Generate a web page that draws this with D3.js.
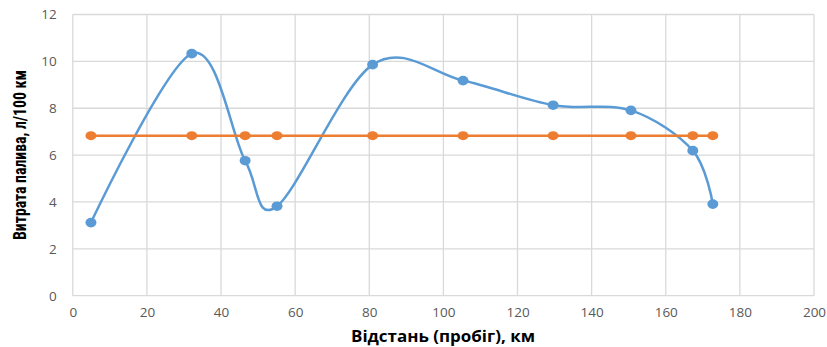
<!DOCTYPE html>
<html><head><meta charset="utf-8">
<script src="https://cdn.jsdelivr.net/npm/d3@7"></script>
<style>body{margin:0;background:#fff}svg{display:block}</style>
</head><body>
<script>
const distance = [4.9, 32.1, 46.5, 55.1, 80.9, 105.3, 129.6, 150.6, 167.3, 172.7];
const consumption = [3.12, 10.33, 5.76, 3.82, 9.86, 9.18, 8.13, 7.91, 6.19, 3.91];
const average = [6.83, 6.83, 6.83, 6.83, 6.83, 6.83, 6.83, 6.83, 6.83, 6.83];
const xTicks = [0, 20, 40, 60, 80, 100, 120, 140, 160, 180, 200];
const yTicks = [0, 2, 4, 6, 8, 10, 12];
const xTitle = "Відстань (пробіг), км";
const yTitle = "Витрата палива, л/100 км";

const W = 827, H = 347;
const svg = d3.select("body").append("svg").attr("width", W).attr("height", H);
const x = d3.scaleLinear().domain([0, 200]).range([72.8, 814]);
const y = d3.scaleLinear().domain([0, 12]).range([295.7, 14.5]);

const grid = svg.append("g");
grid.selectAll(".vx").data(xTicks).join("line")
  .attr("x1", d => x(d)).attr("x2", d => x(d)).attr("y1", y(0)).attr("y2", y(12))
  .attr("stroke", "#d9d9d9").attr("stroke-width", 1.3);
grid.selectAll(".hy").data(yTicks).join("line")
  .attr("x1", x(0)).attr("x2", x(200)).attr("y1", d => y(d)).attr("y2", d => y(d))
  .attr("stroke", "#d9d9d9").attr("stroke-width", 1.3);

const xAxis = svg.append("g").attr("transform", `translate(0,${y(0)})`)
  .call(d3.axisBottom(x).tickValues(xTicks).tickSize(0).tickPadding(12));
const yAxis = svg.append("g").attr("transform", `translate(${x(0)},0)`)
  .call(d3.axisLeft(y).tickValues(yTicks).tickSize(0).tickPadding(16));
[xAxis, yAxis].forEach(a => {
  a.select(".domain").remove();
  a.selectAll("text").attr("fill", "#595959").style("font-family", "'Open Sans', 'Liberation Sans', sans-serif").style("font-size", "13.5px");
});
xAxis.selectAll("text").attr("dy", "0.71em");

const pts = (vals) => distance.map((d, i) => [x(d), y(vals[i])]);

svg.append("path").attr("d", d3.line().curve(d3.curveCardinal.tension(0))(pts(consumption)))
  .attr("fill", "none").attr("stroke", "#5B9BD5").attr("stroke-width", 2.5);
svg.append("path").attr("d", d3.line()(pts(average)))
  .attr("fill", "none").attr("stroke", "#ED7D31").attr("stroke-width", 2.5);

svg.append("g").selectAll("ellipse").data(pts(consumption)).join("ellipse")
  .attr("cx", d => d[0]).attr("cy", d => d[1]).attr("rx", 5.5).attr("ry", 4.8).attr("fill", "#5B9BD5");
svg.append("g").selectAll("ellipse").data(pts(average)).join("ellipse")
  .attr("cx", d => d[0]).attr("cy", d => d[1]).attr("rx", 5.5).attr("ry", 4.5).attr("fill", "#ED7D31");

svg.append("text").attr("x", 443).attr("y", 342).attr("text-anchor", "middle")
  .attr("textLength", 184).attr("lengthAdjust", "spacingAndGlyphs")
  .style("font-family", "'Open Sans', 'Liberation Sans', sans-serif").style("font-size", "16px").style("font-weight", "bold")
  .attr("fill", "#000").text(xTitle);
svg.append("text").attr("transform", "translate(26,155) rotate(-90)").attr("text-anchor", "middle")
  .attr("textLength", 170).attr("lengthAdjust", "spacingAndGlyphs")
  .style("font-family", "'Liberation Sans Narrow', 'Roboto Condensed', 'Liberation Sans', sans-serif").style("font-size", "17.5px").style("font-weight", "bold")
  .attr("fill", "#000").text(yTitle);
</script>
</body></html>
